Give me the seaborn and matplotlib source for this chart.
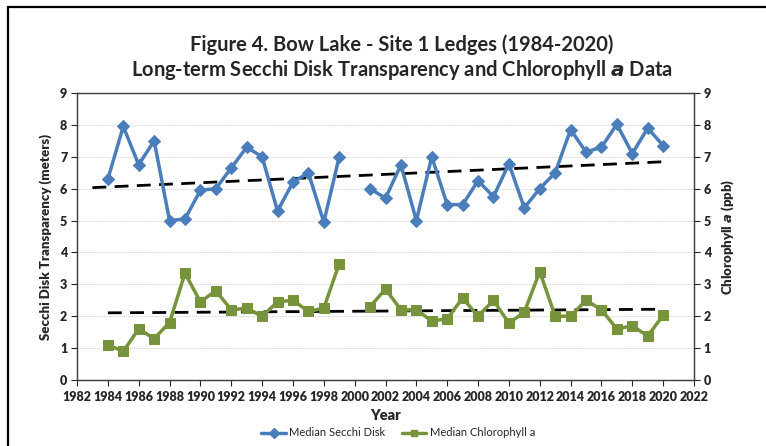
import numpy as np
import pandas as pd
import matplotlib as mpl
mpl.use('Agg')
import matplotlib.pyplot as plt
import seaborn as sns
from matplotlib.patches import Rectangle

sns.set_style('white')
plt.rcParams['font.family'] = ['Lato', 'DejaVu Sans']

# data (2000 has no sample)
years = list(range(1984, 2021))
secchi = [6.3, 7.95, 6.75, 7.5, 5.0, 5.05, 5.95, 6.0, 6.65, 7.3, 7.0, 5.3, 6.2, 6.5, 4.95, 7.0,
          np.nan,
          6.0, 5.7, 6.75, 5.0, 7.0, 5.5, 5.5, 6.25, 5.75, 6.78, 5.4, 6.0, 6.5, 7.85, 7.15, 7.3,
          8.02, 7.1, 7.9, 7.35]
chl = [1.1, 0.9, 1.6, 1.3, 1.8, 3.35, 2.45, 2.8, 2.2, 2.25, 2.0, 2.45, 2.5, 2.15, 2.25, 3.65,
       np.nan,
       2.3, 2.85, 2.2, 2.2, 1.85, 1.92, 2.57, 2.0, 2.5, 1.78, 2.13, 3.4, 2.0, 2.0, 2.5, 2.2,
       1.6, 1.7, 1.38, 2.03]
x_ticks = list(range(1982, 2023, 2))
y_ticks = list(range(0, 10))

df = pd.DataFrame({'Year': years, 'Secchi': secchi, 'Chl': chl})
df['seg'] = (df['Year'] > 2000).astype(int)
d = df.dropna()

blue = '#4A7EBB'
green = '#77933C'
tw = 'heavy'

fig = plt.figure(figsize=(7.66, 4.46), dpi=100)
ax = fig.add_axes([77 / 766, 1 - 380 / 446, (694 - 77) / 766, (380 - 93) / 446])
ax2 = ax.twinx()

# trend lines (linear fit like excel, secchi one is drawn back a year)
for a, col, x0 in [(ax, 'Secchi', 1983), (ax2, 'Chl', 1984)]:
    k, b = np.polyfit(d['Year'], d[col], 1)
    xs = np.array([x0, 2020])
    a.plot(xs, k * xs + b, color='black', lw=2, ls=(0, (5, 3)), zorder=2)

sns.lineplot(data=d, x='Year', y='Secchi', units='seg', estimator=None, ax=ax,
             color=blue, lw=2.5, marker='D', markersize=6, markeredgecolor=blue,
             zorder=3, legend=False)
sns.lineplot(data=d, x='Year', y='Chl', units='seg', estimator=None, ax=ax2,
             color=green, lw=2.5, marker='s', markersize=7, markeredgecolor=green,
             zorder=3, legend=False)

for a in (ax, ax2):
    a.set_ylim(0, 9)
    a.set_yticks(y_ticks)
    a.set_yticklabels([str(v) for v in y_ticks], fontsize=9, fontweight=tw)
    a.tick_params(axis='y', length=4, width=0.8, pad=3, direction='out')
    for s in a.spines.values():
        s.set_color('#404040')
        s.set_linewidth(0.9)

ax.set_xlim(1982, 2022)
ax.set_xticks(x_ticks)
ax.set_xticklabels([str(v) for v in x_ticks], fontsize=9, fontweight=tw)
ax.tick_params(axis='x', length=4, width=0.8, pad=4, direction='out', bottom=True)
ax.tick_params(axis='y', left=True)
ax2.tick_params(axis='y', right=True)
ax.yaxis.grid(True, color='#d0d0d0', lw=0.7, ls=(0, (1, 1)))
ax.set_axisbelow(True)

ax.set_xlabel('Year', fontsize=10.5, fontweight=tw, labelpad=4)
ax.set_ylabel('Secchi Disk Transparency (meters)', fontsize=9.5, fontweight=tw, labelpad=6)
ax2.set_ylabel('Chlorophyll $\\mathbfit{a}$ (ppb)', fontsize=9.5, fontweight=tw, labelpad=6)

fig.text(0.525, 1 - 45 / 446, 'Figure 4. Bow Lake - Site 1 Ledges (1984-2020)',
         ha='center', va='center', fontsize=14.5, fontweight='bold')
fig.text(0.525, 1 - 70 / 446, 'Long-term Secchi Disk Transparency and Chlorophyll $\\mathbfit{a}$ Data',
         ha='center', va='center', fontsize=14.5, fontweight='bold')

h1 = plt.Line2D([], [], color=blue, lw=2.5, marker='D', markersize=5)
h2 = plt.Line2D([], [], color=green, lw=2.5, marker='s', markersize=5)
fig.legend([h1, h2], ['Median Secchi Disk', 'Median Chlorophyll a'],
           loc='center', bbox_to_anchor=(0.52, 1 - 433 / 446), ncol=2, frameon=False,
           fontsize=8, handlelength=2.2, columnspacing=1.5, handletextpad=0.3)

# outer frame of the chart box
fig.patches.append(Rectangle((8 / 766, -0.1), 1.1, 1 - 7 / 446 + 0.1, transform=fig.transFigure,
                             fill=False, edgecolor='black', lw=1.6))

fig.savefig('out.png', dpi=100)
